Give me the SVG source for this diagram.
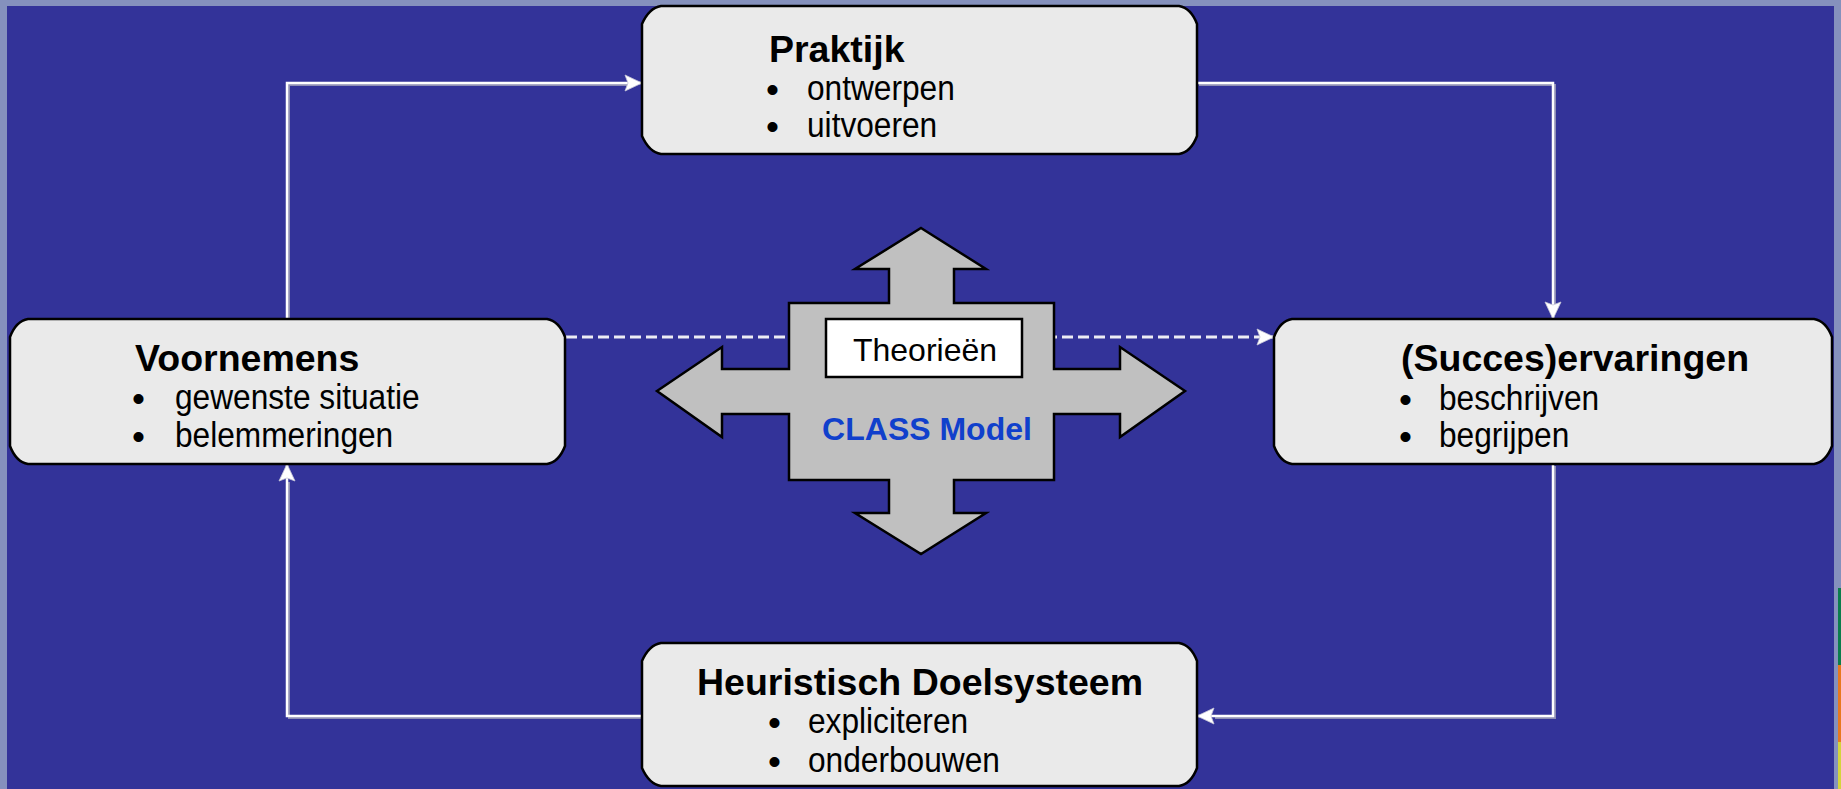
<svg xmlns="http://www.w3.org/2000/svg" width="1841" height="789" viewBox="0 0 1841 789">
<style>
.box{fill:#EAEAEA;stroke:#000;stroke-width:2.5}
.ttl{font-family:"Liberation Sans",Arial,sans-serif;font-weight:bold;font-size:37.5px;fill:#000}
.it{font-family:"Liberation Sans",Arial,sans-serif;font-size:35px;fill:#000}
.bul{font-family:"Liberation Sans",Arial,sans-serif;font-size:37px;fill:#000}
.con{fill:none;stroke:#fff;stroke-width:2.5}
.sh{fill:none;stroke:#8E8EB4;stroke-width:2}
.dash{fill:none;stroke:#ECECF4;stroke-width:3;stroke-dasharray:11 5}
</style>
<defs>
<marker id="ah" markerUnits="userSpaceOnUse" markerWidth="18" markerHeight="18" refX="17" refY="8" orient="auto" overflow="visible">
<path d="M0,0 L17,8 L0,16 L3,8 z" fill="#fff" stroke="#C8C8D8" stroke-width="0.8"/>
</marker>
</defs>
<rect x="0" y="0" width="1841" height="789" fill="#8591BD"/>
<rect x="7" y="6" width="1827" height="783" fill="#333399"/>
<rect x="1838" y="588" width="3" height="77" fill="#0B7D4C"/>
<rect x="1838" y="665" width="3" height="77" fill="#E8781E"/>
<rect x="1838" y="742" width="3" height="47" fill="#D4D43C"/>

<g id="connectors">
<g transform="translate(2,2)">
<path class="sh" d="M287,319 V83 H625"/>
<path class="sh" d="M1197,83 H1553 V303"/>
<path class="sh" d="M1553,464 V716 H1213"/>
<path class="sh" d="M642,716 H287 V480"/>
</g>
<path class="con" d="M287,319 V83 H642" marker-end="url(#ah)"/>
<path class="con" d="M1197,83 H1553 V319" marker-end="url(#ah)"/>
<path class="con" d="M1553,464 V716 H1197" marker-end="url(#ah)"/>
<path class="con" d="M642,716 H287 V464" marker-end="url(#ah)"/>
<path class="dash" d="M566,337 H1274" marker-end="url(#ah)"/>
</g>

<g id="praktijk">
<path class="box" d="M661,6 H1179 Q1191,8 1197,24 V136 Q1191,152 1179,154 H661 Q649,152 642,136 V24 Q649,8 661,6 z"/>
<text class="ttl" x="769" y="62">Praktijk</text>
<text class="bul"><tspan x="766" y="102">•</tspan><tspan x="766" y="139">•</tspan></text>
<text class="it" transform="translate(807,100) scale(0.905,1)">ontwerpen</text>
<text class="it" transform="translate(807,137) scale(0.905,1)">uitvoeren</text>
</g>

<g id="voornemens">
<path class="box" d="M28,319 H547 Q559,321 565,337 V446 Q559,462 547,464 H28 Q16,462 10,446 V337 Q16,321 28,319 z"/>
<text class="ttl" x="135" y="371">Voornemens</text>
<text class="bul"><tspan x="132" y="411">•</tspan><tspan x="132" y="449">•</tspan></text>
<text class="it" transform="translate(175,409) scale(0.905,1)">gewenste  situatie</text>
<text class="it" transform="translate(175,447) scale(0.905,1)">belemmeringen</text>
</g>

<g id="succes">
<path class="box" d="M1292,319 H1814 Q1826,321 1832,337 V446 Q1826,462 1814,464 H1292 Q1280,462 1274,446 V337 Q1280,321 1292,319 z"/>
<text class="ttl" x="1401" y="371">(Succes)ervaringen</text>
<text class="bul"><tspan x="1399" y="412">•</tspan><tspan x="1399" y="449">•</tspan></text>
<text class="it" transform="translate(1439,410) scale(0.905,1)">beschrijven</text>
<text class="it" transform="translate(1439,447) scale(0.905,1)">begrijpen</text>
</g>

<g id="heuristisch">
<path class="box" d="M661,643 H1179 Q1191,645 1197,661 V768 Q1191,784 1179,786 H661 Q649,784 642,768 V661 Q649,645 661,643 z"/>
<text class="ttl" x="697" y="695">Heuristisch Doelsysteem</text>
<text class="bul"><tspan x="768" y="735">•</tspan><tspan x="768" y="774">•</tspan></text>
<text class="it" transform="translate(808,733) scale(0.905,1)">expliciteren</text>
<text class="it" transform="translate(808,772) scale(0.905,1)">onderbouwen</text>
</g>

<g id="class-model">
<path d="M921,228 L986,269 H954 V303 H1054 V369 H1120 V347 L1185,391 L1120,437 V414 H1054 V480 H954 V513 H986 L921,554 L855,513 H889 V480 H789 V414 H722 V437 L657,391 L722,347 V369 H789 V303 H889 V269 H855 z" fill="#C0C0C0" stroke="#000" stroke-width="2.5" stroke-linejoin="miter"/>
<rect x="826" y="319" width="196" height="58" fill="#fff" stroke="#000" stroke-width="2.5"/>
<text x="925" y="361" text-anchor="middle" font-family="'Liberation Sans',Arial,sans-serif" font-size="32" fill="#000">Theorieën</text>
<text x="927" y="440" text-anchor="middle" font-family="'Liberation Sans',Arial,sans-serif" font-size="32" font-weight="bold" fill="#1040CC">CLASS Model</text>
</g>
</svg>
